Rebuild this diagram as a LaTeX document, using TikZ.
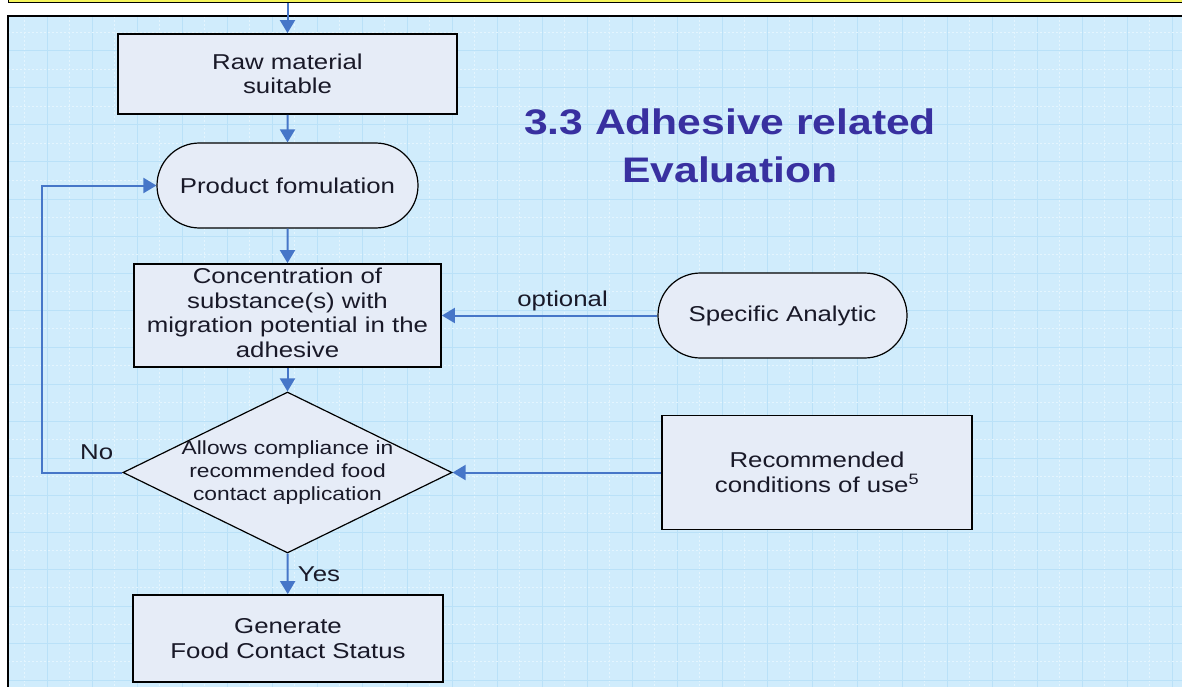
\documentclass[tikz,border=0pt]{standalone}
\usepackage{fontspec}
\setmainfont{Liberation Sans}[FakeStretch=1.2]
\usetikzlibrary{arrows.meta,shapes.geometric,shapes.misc}
\definecolor{panelbg}{RGB}{208,236,252}
\definecolor{gridmaj}{RGB}{186,225,248}
\definecolor{gridmin}{RGB}{228,245,254}
\definecolor{nodefill}{RGB}{230,236,247}
\definecolor{arrowc}{RGB}{70,118,200}
\definecolor{titlec}{RGB}{56,48,160}
\definecolor{yellowbox}{RGB}{245,245,90}
\definecolor{textc}{RGB}{25,25,40}
\newcommand{\bodyfont}{\fontsize{21.5}{24.5}\selectfont}
\newcommand{\decfont}{\fontsize{19}{23}\selectfont}
\newcommand{\titlefont}{\fontsize{35.5}{48}\selectfont\bfseries}
\tikzset{
  stepbox/.style={draw=black, line width=1.8pt, fill=nodefill, inner sep=0pt,
    align=center, font=\bodyfont, text=textc},
  termbox/.style={draw=black, line width=1.2pt, fill=nodefill, inner sep=0pt,
    rounded rectangle, rounded rectangle arc length=180, align=center,
    font=\bodyfont, text=textc},
  decbox/.style={draw=black, line width=1.2pt, fill=nodefill, inner sep=0pt,
    diamond},
  arr/.style={draw=arrowc, line width=2pt, -{Triangle[length=13pt,width=15pt]}},
  lbl/.style={font=\bodyfont, text=textc}
}
\begin{document}
\begin{tikzpicture}[x=1pt,y=-1pt]
\useasboundingbox (0,0) rectangle (1182,687);
% previous (yellow) box, only its bottom edge visible
\node[draw=black, line width=1.2pt, fill=yellowbox, minimum width=1200pt,
  minimum height=20pt, inner sep=0pt, anchor=south west] (prev) at (8,3.5) {};
% panel with grid
\begin{scope}
  \clip (8,16) rectangle (1190,700);
  \fill[panelbg] (8,16) rectangle (1190,700);
  \foreach \x in {2,47,...,1190} {
    \draw[gridmaj, line width=1pt] (\x,16) -- (\x,700);
    \draw[gridmin, line width=0.8pt, dash pattern=on 2pt off 2pt] (\x+22.5,16) -- (\x+22.5,700);
  }
  \foreach \y in {14,51,...,700} {
    \draw[gridmaj, line width=1pt] (8,\y) -- (1190,\y);
    \draw[gridmin, line width=0.8pt, dash pattern=on 2pt off 2pt] (8,\y+18.5) -- (1190,\y+18.5);
  }
\end{scope}
\draw[black, line width=2pt] (8,700) -- (8,16) -- (1190,16);
% title
\node[font=\titlefont, text=titlec, align=center] (title) at (730,146)
  {3.3 Adhesive related\\Evaluation};
% nodes
\node[stepbox, minimum width=339pt, minimum height=80pt] (raw) at (287.5,74)
  {Raw material\\suitable};
\node[termbox, minimum width=261pt, minimum height=85pt] (prod) at (287.5,185.5)
  {Product fomulation};
\node[stepbox, minimum width=307pt, minimum height=103pt] (conc) at (287.5,315.5)
  {\raisebox{4pt}{\begin{tabular}{@{}c@{}}Concentration of\\substance(s) with\\migration potential in the\\adhesive\end{tabular}}};
\node[decbox, minimum width=329pt, minimum height=161pt] (dec) at (287.5,472.5) {};
\node[font=\decfont, text=textc, align=center, inner sep=0pt] (dectext) at (dec.center)
  {Allows compliance in\\recommended food\\contact application};
\node[stepbox, minimum width=310pt, minimum height=87pt] (gen) at (288,638.5)
  {Generate\\Food Contact Status};
\node[termbox, minimum width=249pt, minimum height=85pt] (spec) at (782.5,315.5)
  {Specific Analytic};
\node[stepbox, minimum width=310pt, minimum height=114pt] (rec) at (817,472.5)
  {Recommended\\conditions of use\textsuperscript{5}};
\coordinate (loop) at (42,472.5);
% connectors
\draw[arr] (prev.south -| raw.north) -- (raw.north);
\draw[arr] (raw) -- (prod);
\draw[arr] (prod) -- (conc);
\draw[arr] (conc) -- (dec.north);
\draw[arr] (dec.south) -- node[lbl, right, xshift=6pt] {Yes} (gen);
\draw[arr] (spec) -- node[lbl, above, pos=0.44] {optional} (conc);
\draw[arr] (rec.west) -- (dec.east);
\draw[arr] (dec.west) -- node[lbl, above=8pt, pos=0.32] {No} (loop) |- (prod.west);
\end{tikzpicture}
\end{document}
